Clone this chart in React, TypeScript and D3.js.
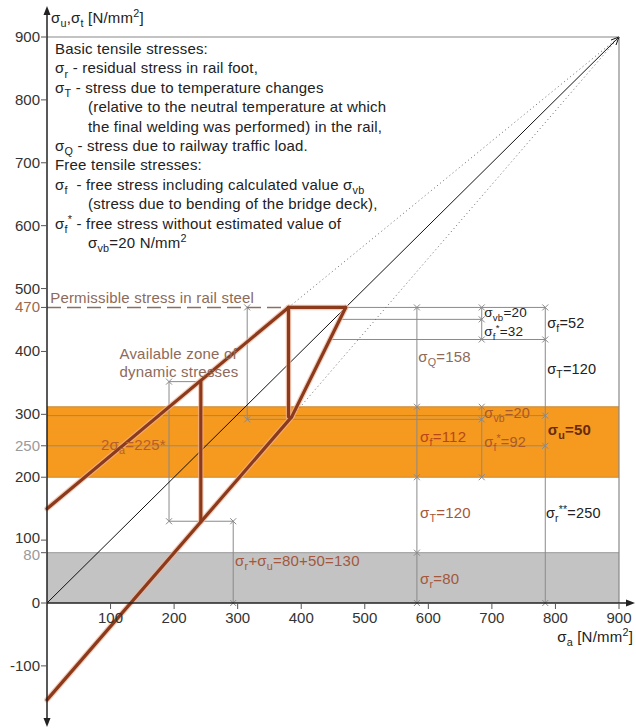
import React from 'react';
import * as d3 from 'd3';

const X_TICKS = [100, 200, 300, 400, 500, 600, 700, 800, 900];
const Y_TICKS = [900, 800, 700, 600, 500, 470, 400, 300, 250, 200, 100, 80, 0, -100];
const ORANGE_BAND = [200, 312];
const GRAY_BAND = [0, 80];
const PERMISSIBLE = 470;

// Smith diagram envelope lines: [σa, σ]
const UPPER_ENVELOPE = [[0, 150], [380, 470]];
const LOWER_ENVELOPE = [[0, -154], [385, 296]];
const TOP_CUT = [[380, 470], [470, 470]];
const RIGHT_CUT = [[470, 470], [385, 296]];
const MAX_VERTICAL = [[380, 470], [380, 296]];
const AMPLITUDE_VERTICAL = [[242, 352], [242, 130]];
const UPPER_DOTTED = [[380, 470], [900, 900]];
const LOWER_DOTTED = [[385, 296], [900, 900]];
const DIAGONAL = [[0, 0], [900, 900]];

// dimension lines
const DIM_SEGMENTS = [
  [[192, 352], [192, 130]],
  [[192, 352], [242, 352]],
  [[192, 130], [293, 130]],
  [[293, 130], [293, 0]],
  [[315, 470], [315, 292]],
  [[315, 292], [684, 292]],
  [[0, 298], [784, 298]],
  [[0, 250], [784, 250]],
  [[470, 470], [784, 470]],
  [[461, 451], [684, 451]],
  [[446, 419], [784, 419]],
  [[582, 470], [582, 0]],
  [[684, 470], [684, 419]],
  [[684, 312], [684, 200]],
  [[784, 470], [784, 0]],
];
const DIM_MARKS = [
  [192, 352], [192, 130], [293, 130], [293, 0], [315, 470], [315, 292],
  [582, 470], [582, 312], [582, 200], [582, 80], [582, 0],
  [684, 470], [684, 451], [684, 419], [684, 312], [684, 292], [684, 200],
  [784, 470], [784, 419], [784, 298], [784, 250], [784, 0],
];

const LEGEND_LINES = [
  'Basic tensile stresses:',
  'σ_{r} - residual stress in rail foot,',
  'σ_{T} - stress due to temperature changes',
  '(relative to the neutral temperature at which',
  'the final welding was performed) in the rail,',
  'σ_{Q} - stress due to railway traffic load.',
  'Free tensile stresses:',
  'σ_{f}  - free stress including calculated value σ_{vb}',
  '(stress due to bending of the bridge deck),',
  'σ_{f}^{*} - free stress without estimated value of',
  'σ_{vb}=20 N/mm^{2}',
];
const LEGEND_INDENT = [0, 0, 0, 1, 1, 0, 0, 0, 1, 0, 1];

// annotations: text, anchor in data units, kind
const ANNOTATIONS = [
  { t: 'Permissible stress in rail steel', x: 5, y: 477, k: 'muted' },
  { t: 'Available zone of', x: 114, y: 388, k: 'muted' },
  { t: 'dynamic stresses', x: 114, y: 359, k: 'muted' },
  { t: '2σ_{a}=225*', x: 85, y: 243, k: 'amp' },
  { t: 'σ_{Q}=158', x: 584, y: 383, k: 'muted' },
  { t: 'σ_{f}=112', x: 587, y: 256, k: 'orangeDark' },
  { t: 'σ_{T}=120', x: 587, y: 135, k: 'brown' },
  { t: 'σ_{r}=80', x: 587, y: 30, k: 'brown' },
  { t: 'σ_{r}+σ_{u}=80+50=130', x: 296, y: 59, k: 'brown' },
  { t: 'σ_{vb}=20', x: 688, y: 454, k: 'small' },
  { t: 'σ_{f}^{*}=32', x: 688, y: 424, k: 'small' },
  { t: 'σ_{f}=52', x: 787, y: 437, k: 'black' },
  { t: 'σ_{T}=120', x: 787, y: 364, k: 'black' },
  { t: 'σ_{vb}=20', x: 688, y: 294, k: 'orangeMid' },
  { t: 'σ_{f}^{*}=92', x: 688, y: 248, k: 'orangeMid' },
  { t: 'σ_{u}=50', x: 788, y: 267, k: 'bold' },
  { t: 'σ_{r}^{**}=250', x: 785, y: 135, k: 'black' },
];

const STYLE: Record<string, { fill: string; weight?: number; size?: number }> = {
  muted: { fill: '#8d6a5a' },
  amp: { fill: '#b5602a' },
  orangeDark: { fill: '#b8461a' },
  orangeMid: { fill: '#a85a2a', size: 14.5 },
  brown: { fill: '#a3573c' },
  black: { fill: '#222', size: 14.5 },
  small: { fill: '#222', size: 13.5 },
  bold: { fill: '#6a2a10', weight: 700 },
};

const FONT = "'Liberation Sans', Arial, sans-serif";
const FS = 15;

function Rich({ text, x, y, size = FS, fill = '#222', weight = 400, anchor = 'start' }: any) {
  const parts = text.split(/(_\{[^}]*\}|\^\{[^}]*\})/).filter((s: string) => s !== '');
  let cur = 0;
  const spans = parts.map((p: string, i: number) => {
    let shift = 0;
    let content = p;
    let fs = size;
    if (p.startsWith('_{')) {
      shift = size * 0.28;
      content = p.slice(2, -1);
      fs = size * 0.72;
    } else if (p.startsWith('^{')) {
      shift = -size * 0.38;
      content = p.slice(2, -1);
      fs = size * 0.72;
    }
    const dy = shift - cur;
    cur = shift;
    return (
      <tspan key={i} dy={dy} fontSize={fs}>
        {content}
      </tspan>
    );
  });
  return (
    <text
      x={x}
      y={y}
      fill={fill}
      fontWeight={weight}
      fontSize={size}
      fontFamily={FONT}
      textAnchor={anchor}
      letterSpacing={0.2}
      style={{ whiteSpace: 'pre' }}
    >
      {spans}
    </text>
  );
}

export default function App() {
  const W = 636;
  const H = 728;
  const x = d3.scaleLinear().domain([0, 900]).range([47, 619]);
  const y = d3.scaleLinear().domain([0, 900]).range([603, 37]);
  const line = d3.line<number[]>().x((d) => x(d[0])).y((d) => y(d[1]));

  const brownLines = [UPPER_ENVELOPE, LOWER_ENVELOPE, TOP_CUT, RIGHT_CUT, MAX_VERTICAL, AMPLITUDE_VERTICAL];
  const dimColor = '#8a8a8a';

  return (
    <svg width={W} height={H} style={{ position: 'absolute', left: 0, top: 0, background: '#fff' }}>
      {/* bands */}
      <rect x={x(0)} y={y(ORANGE_BAND[1])} width={x(900) - x(0)} height={y(ORANGE_BAND[0]) - y(ORANGE_BAND[1])} fill="#f5991f" />
      <rect x={x(0)} y={y(GRAY_BAND[1])} width={x(900) - x(0)} height={y(GRAY_BAND[0]) - y(GRAY_BAND[1])} fill="#c3c3c3" />
      <line x1={x(0)} x2={x(900)} y1={y(ORANGE_BAND[1])} y2={y(ORANGE_BAND[1])} stroke="#c98a3a" strokeWidth={1} />
      <line x1={x(0)} x2={x(900)} y1={y(ORANGE_BAND[0])} y2={y(ORANGE_BAND[0])} stroke="#c98a3a" strokeWidth={1} />
      <line x1={x(0)} x2={x(900)} y1={y(GRAY_BAND[1])} y2={y(GRAY_BAND[1])} stroke="#999" strokeWidth={1} />

      {/* frame */}
      <line x1={x(0)} x2={x(900)} y1={y(900)} y2={y(900)} stroke="#888" strokeWidth={1.2} />
      <line x1={x(900)} x2={x(900)} y1={y(900)} y2={y(0)} stroke="#888" strokeWidth={1.2} />

      {/* dimension lines */}
      {DIM_SEGMENTS.map((s, i) => (
        <path key={'d' + i} d={line(s as any) || ''} stroke={dimColor} strokeWidth={1} fill="none" />
      ))}
      {DIM_MARKS.map((m, i) => (
        <g key={'m' + i} stroke={dimColor} strokeWidth={1}>
          <line x1={x(m[0]) - 3} x2={x(m[0]) + 3} y1={y(m[1]) - 3} y2={y(m[1]) + 3} />
          <line x1={x(m[0]) - 3} x2={x(m[0]) + 3} y1={y(m[1]) + 3} y2={y(m[1]) - 3} />
        </g>
      ))}

      {/* diagonal and dotted */}
      <path d={line(DIAGONAL as any) || ''} stroke="#111" strokeWidth={1} fill="none" />
      <path d={`M${x(900)},${y(900)} l-8,3 M${x(900)},${y(900)} l-3,8`} stroke="#111" strokeWidth={1} fill="none" />
      <path d={line(UPPER_DOTTED as any) || ''} stroke="#666" strokeWidth={1} strokeDasharray="1,3" fill="none" />
      <path d={line(LOWER_DOTTED as any) || ''} stroke="#666" strokeWidth={1} strokeDasharray="1,3" fill="none" />

      {/* permissible dashed */}
      <line x1={x(0)} x2={x(380)} y1={y(PERMISSIBLE)} y2={y(PERMISSIBLE)} stroke="#8d6f62" strokeWidth={1.5} strokeDasharray="14,6" />

      {/* brown envelope */}
      {brownLines.map((s, i) => (
        <path key={'h' + i} d={line(s as any) || ''} stroke="#efb59a" strokeOpacity={0.7} strokeWidth={5.5} fill="none" strokeLinecap="round" />
      ))}
      {brownLines.map((s, i) => (
        <path key={'b' + i} d={line(s as any) || ''} stroke="#8c3a1c" strokeWidth={3.2} fill="none" strokeLinecap="round" />
      ))}

      {/* axes */}
      <line x1={x(0)} x2={x(0)} y1={10} y2={724} stroke="#222" strokeWidth={1.5} />
      <path d={`M${x(0)},6 l-3.5,9 l7,0 z`} fill="#222" />
      <path d={`M${x(0)},727 l-3.5,-9 l7,0 z`} fill="#222" />
      <line x1={x(0)} x2={630} y1={y(0)} y2={y(0)} stroke="#222" strokeWidth={1.5} />
      <path d={`M635,${y(0)} l-9,-3.5 l0,7 z`} fill="#222" />

      {Y_TICKS.map((t) => {
        const col = t === 470 ? '#9a6a50' : t === 250 || t === 80 ? '#9a9a9a' : '#333';
        const dy = t === 80 ? 2 : t === 100 ? -2 : 0;
        return (
          <g key={'yt' + t}>
            <line x1={x(0) - 6} x2={x(0)} y1={y(t)} y2={y(t)} stroke="#555" strokeWidth={1} />
            <text x={x(0) - 7} y={y(t) + 5 + dy} textAnchor="end" fontSize={FS} fontFamily={FONT} fill={col}>
              {t === -100 ? '-100' : t}
            </text>
          </g>
        );
      })}
      {X_TICKS.map((t) => (
        <g key={'xt' + t}>
          <line x1={x(t)} x2={x(t)} y1={y(0)} y2={y(0) + 6} stroke="#555" strokeWidth={1} />
          <text x={x(t)} y={y(0) + 20} textAnchor="middle" fontSize={FS} fontFamily={FONT} fill="#333">
            {t}
          </text>
        </g>
      ))}

      <Rich text="σ_{u},σ_{t} [N/mm^{2}]" x={51} y={23} />
      <Rich text="σ_{a} [N/mm^{2}]" x={633} y={642} anchor="end" />

      {/* legend */}
      {LEGEND_LINES.map((l, i) => (
        <Rich key={'lg' + i} text={l} x={LEGEND_INDENT[i] ? 88 : 55} y={54 + i * 19.4} />
      ))}

      {/* annotations */}
      {ANNOTATIONS.map((a, i) => (
        <Rich
          key={'an' + i}
          text={a.t}
          x={x(a.x)}
          y={y(a.y)}
          fill={STYLE[a.k].fill}
          weight={STYLE[a.k].weight || 400}
          size={STYLE[a.k].size || FS}
        />
      ))}
    </svg>
  );
}
